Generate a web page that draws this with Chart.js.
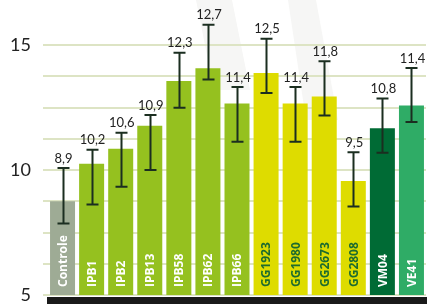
<!DOCTYPE html>
<html>
<head>
<meta charset="utf-8">
<script src="https://cdn.jsdelivr.net/npm/chart.js@4.4.0/dist/chart.umd.min.js"></script>
<style>
  html, body { margin: 0; padding: 0; background: #ffffff; }
  #wrap { width: 427px; height: 304px; position: relative; }
</style>
</head>
<body>
<div id="wrap"><canvas id="c"></canvas></div>
<script>
var categories = ['Controle', 'IPB1', 'IPB2', 'IPB13', 'IPB58', 'IPB62', 'IPB66',
    'GG1923', 'GG1980', 'GG2673', 'GG2808', 'VM04', 'VE41'];
// bar heights as drawn against the axis
var barValues = [8.75, 10.25, 10.85, 11.77, 13.56, 14.07, 12.66, 13.88, 12.66, 12.94, 9.56, 11.67, 12.58];
// error bar ends
var errHigh = [10.08, 10.81, 11.49, 12.2, 14.69, 15.81, 13.32, 15.25, 13.32, 14.35, 10.71, 12.86, 14.08];
var errLow = [7.86, 8.62, 9.33, 10.0, 12.49, 13.62, 11.13, 13.08, 11.13, 12.18, 8.54, 10.69, 11.92];
// printed value labels
var valueLabels = ['8,9', '10,2', '10,6', '10,9', '12,3', '12,7', '11,4', '12,5', '11,4', '11,8', '9,5', '10,8', '11,4'];
var yTickLabels = [5, 10, 15];

var barColors = ['#9eab95', '#95c11f', '#95c11f', '#95c11f', '#95c11f', '#95c11f', '#95c11f',
    '#dedc00', '#dedc00', '#dedc00', '#dedc00', '#006b35', '#2fac66'];
var nameColors = ['#ffffff', '#ffffff', '#ffffff', '#ffffff', '#ffffff', '#ffffff', '#ffffff',
    '#1d6b2e', '#1d6b2e', '#1d6b2e', '#1d6b2e', '#ffffff', '#ffffff'];

var backdrop = {
    id: 'backdrop',
    beforeDraw: function(chart) {
        var ctx = chart.ctx;
        ctx.save();
        ctx.fillStyle = '#ffffff';
        ctx.fillRect(0, 0, chart.width, chart.height);
        ctx.fillStyle = '#f6f6f5';
        ctx.beginPath();
        ctx.moveTo(288, 0); ctx.lineTo(316, 0); ctx.lineTo(338, 120); ctx.lineTo(306, 120);
        ctx.closePath();
        ctx.fill();
        ctx.beginPath();
        ctx.moveTo(196, 0); ctx.lineTo(232, 0); ctx.lineTo(250, 90); ctx.lineTo(214, 90);
        ctx.closePath();
        ctx.fill();
        ctx.restore();
    }
};

var extras = {
    id: 'extras',
    afterDatasetsDraw: function(chart) {
        var ctx = chart.ctx;
        var xs = chart.scales.x, ys = chart.scales.y;
        var area = chart.chartArea;
        ctx.save();
        // error bars
        ctx.strokeStyle = '#1b2e20';
        ctx.lineWidth = 2;
        for (var i = 0; i < categories.length; i++) {
            var x = Math.round(xs.getPixelForValue(i)) + 0.5;
            var yh = ys.getPixelForValue(errHigh[i]);
            var yl = ys.getPixelForValue(errLow[i]);
            ctx.beginPath();
            ctx.moveTo(x, yh); ctx.lineTo(x, yl);
            ctx.moveTo(x - 6, yh); ctx.lineTo(x + 6, yh);
            ctx.moveTo(x - 6, yl); ctx.lineTo(x + 6, yl);
            ctx.stroke();
        }
        // value labels
        ctx.fillStyle = '#222222';
        ctx.font = '13px Lato';
        ctx.textAlign = 'center';
        ctx.textBaseline = 'bottom';
        for (var i = 0; i < categories.length; i++) {
            var x = xs.getPixelForValue(i);
            ctx.fillText(valueLabels[i], x + 1, ys.getPixelForValue(errHigh[i]) - 3);
        }
        // category names inside bars
        ctx.font = 'bold 12px "Open Sans"';
        ctx.textAlign = 'left';
        ctx.textBaseline = 'middle';
        for (var i = 0; i < categories.length; i++) {
            var x = xs.getPixelForValue(i);
            ctx.save();
            ctx.translate(x, area.bottom - 8);
            ctx.rotate(-Math.PI / 2);
            ctx.fillStyle = nameColors[i];
            ctx.fillText(categories[i], 0, 1);
            ctx.restore();
        }
        // base bar
        ctx.fillStyle = '#1a1a1a';
        ctx.fillRect(area.left - 1, area.bottom + 2, chart.width - area.left + 1, 8);
        ctx.restore();
    }
};

new Chart(document.getElementById('c'), {
    type: 'bar',
    data: {
        labels: categories,
        datasets: [{
            data: barValues,
            backgroundColor: barColors,
            borderWidth: 0,
            barPercentage: 0.86,
            categoryPercentage: 1
        }]
    },
    options: {
        responsive: true,
        maintainAspectRatio: false,
        animation: false,
        layout: { padding: { top: 0, right: 1, bottom: 9, left: 0 } },
        plugins: { legend: { display: false }, tooltip: { enabled: false } },
        scales: {
            x: { display: false },
            y: {
                min: 5,
                max: 16.8,
                afterFit: function(s) { s.width = 48; s.paddingTop = 0; s.paddingBottom = 0; },
                border: { display: false },
                grid: {
                    color: function(c) { return c.tick && c.tick.value > 15.1 ? 'rgba(0,0,0,0)' : '#dde4c4'; },
                    lineWidth: 2,
                    tickLength: 5
                },
                ticks: {
                    stepSize: 1.25,
                    padding: 12,
                    color: '#222222',
                    font: { family: 'Lato', size: 18 },
                    callback: function(v) { return yTickLabels.indexOf(v) >= 0 ? String(v) : ''; }
                }
            }
        }
    },
    plugins: [backdrop, extras]
});
</script>
</body>
</html>
